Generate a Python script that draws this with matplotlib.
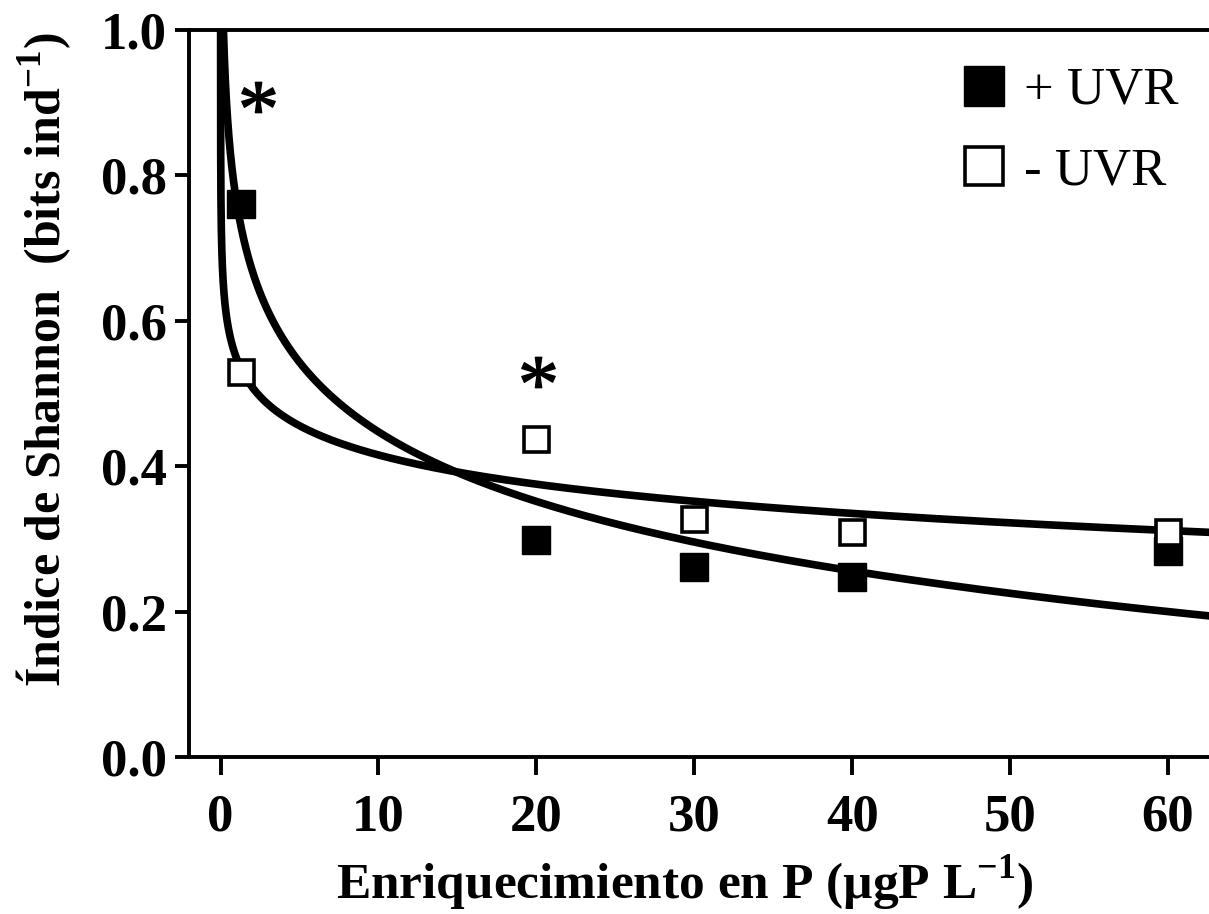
import numpy as np
import matplotlib
matplotlib.use("Agg")
import matplotlib.pyplot as plt

P_PLUS = [1.3, 20, 30, 40, 60]
H_PLUS = [0.76, 0.299, 0.262, 0.248, 0.283]
P_MINUS = [1.3, 20, 30, 40, 60]
H_MINUS = [0.53, 0.437, 0.328, 0.310, 0.310]

# logarithmic fits  H = a - b * ln(P)
FIT_PLUS = (0.765, 0.138)
FIT_MINUS = (0.549, 0.058)

# significance marks
STAR_X = [2.4, 20.1]
STAR_Y = [0.908, 0.53]

plt.rcParams["font.family"] = "Liberation Serif"
plt.rcParams["mathtext.fontset"] = "custom"
plt.rcParams["mathtext.rm"] = "Liberation Serif"
plt.rcParams["mathtext.bf"] = "Liberation Serif:bold"

fig = plt.figure(figsize=(12.09, 9.14), dpi=100)
ax = fig.add_axes([189 / 1209, 157 / 914, 1020 / 1209, 727 / 914])

xs = np.geomspace(1e-4, 63, 3000)
for a, b in (FIT_PLUS, FIT_MINUS):
    ax.plot(xs, a - b * np.log(xs), color="black", lw=5.5, solid_capstyle="butt", zorder=2)

ax.plot(P_PLUS, H_PLUS, ls="none", marker="s", ms=19.5, mfc="black", mec="black",
        mew=1, zorder=3, label="+ UVR")
ax.plot(P_MINUS, H_MINUS, ls="none", marker="s", ms=18, mfc="white", mec="black",
        mew=2.6, zorder=4, label="- UVR")
ax.plot(STAR_X, STAR_Y, ls="none", marker=r"$*$", ms=24, color="black", zorder=5)

ax.set_xlim(-2, 62.6)
ax.set_ylim(0, 1.0)
ax.set_xticks([0, 10, 20, 30, 40, 50, 60])
ax.set_yticks([0.0, 0.2, 0.4, 0.6, 0.8, 1.0])
ax.set_yticklabels(["0.0", "0.2", "0.4", "0.6", "0.8", "1.0"])
for lab in ax.get_xticklabels() + ax.get_yticklabels():
    lab.set_fontweight("bold")
    lab.set_fontsize(38)
ax.tick_params(axis="x", direction="out", length=13, width=2.8, pad=13)
ax.tick_params(axis="y", direction="out", length=10, width=2.8, pad=6)

for side in ("left", "bottom", "top"):
    ax.spines[side].set_linewidth(2.8)
ax.spines["right"].set_visible(False)

fig.text(685 / 1209, 1 - 899 / 914, r"Enriquecimiento en P (µgP L$^{\mathbf{-1}}$)",
         fontsize=37, fontweight="bold", ha="center", va="baseline")
fig.text(44 / 1209, 1 - 360 / 914, r"Índice de Shannon  (bits ind$^{\mathbf{-1}}$)",
         fontsize=36, fontweight="bold", ha="center", va="center", rotation=90)

ax.legend(loc="upper left", bbox_to_anchor=(958 / 1209, 1 - 67 / 914),
          bbox_transform=fig.transFigure, frameon=False, fontsize=38,
          numpoints=1, markerscale=1.5, handlelength=1.0, handletextpad=0.25,
          labelspacing=0.62, borderpad=0, borderaxespad=0)

fig.savefig("out.png", dpi=100)
